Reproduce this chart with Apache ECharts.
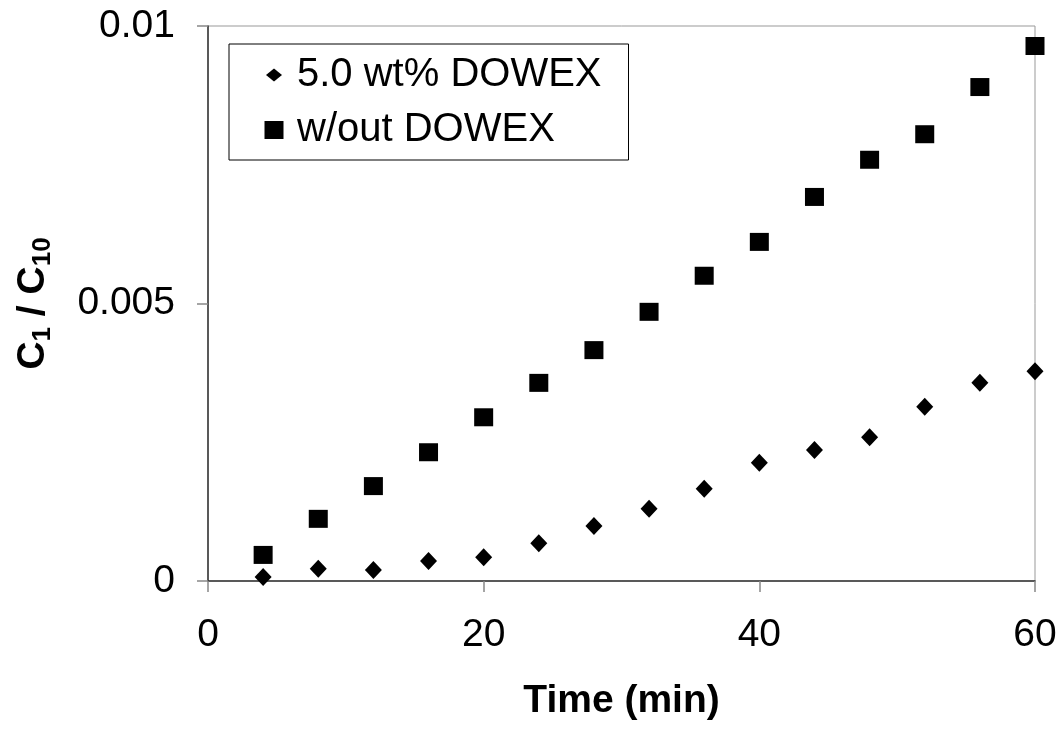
<!DOCTYPE html>
<html>
<head>
<meta charset="utf-8">
<script src="https://cdn.jsdelivr.net/npm/echarts@6/dist/echarts.min.js"></script>
<style>
html,body{margin:0;padding:0;background:#fff;}
#chart{width:1063px;height:732px;}
</style>
</head>
<body>
<div id="chart"></div>
<script>
// Data
const time = [4, 8, 12, 16, 20, 24, 28, 32, 36, 40, 44, 48, 52, 56, 60];
const withDowex = [0.00007, 0.00022, 0.00020, 0.00036, 0.00043, 0.00068, 0.00099, 0.00130, 0.00166, 0.00213, 0.00236, 0.00259, 0.00314, 0.00357, 0.00378];
const withoutDowex = [0.00047, 0.00112, 0.00171, 0.00232, 0.00295, 0.00357, 0.00416, 0.00485, 0.00550, 0.00611, 0.00692, 0.00759, 0.00805, 0.00890, 0.00964];
const seriesNames = ['5.0 wt% DOWEX', 'w/out DOWEX'];
const xTicks = {min: 0, max: 60, interval: 20};
const yTicks = {min: 0, max: 0.01, interval: 0.005};

const FONT = '"Liberation Sans", Arial, Helvetica, sans-serif';
const pairs = (xs, ys) => xs.map((x, i) => [x, ys[i]]);

const chart = echarts.init(document.getElementById('chart'), null, {renderer: 'canvas'});
chart.setOption({
  animation: false,
  backgroundColor: '#fff',
  textStyle: {fontFamily: FONT},
  grid: {
    left: 208, top: 26, right: 28, bottom: 151,
    show: true, borderColor: '#999', borderWidth: 1, backgroundColor: 'transparent'
  },
  legend: {
    orient: 'vertical',
    left: 229, top: 44,
    padding: [11, 27, 10, 35],
    itemGap: 15,
    itemWidth: 28, itemHeight: 20,
    borderColor: '#000', borderWidth: 1,
    backgroundColor: '#fff',
    selectedMode: false,
    textStyle: {fontFamily: FONT, fontSize: 40, lineHeight: 40, color: '#000'},
    data: [
      {name: seriesNames[0], icon: 'path://M0,0 M28,20 M10,3.5 L18,10 L10,16.5 L2,10 Z'},
      {name: seriesNames[1], icon: 'path://M0,0 M28,20 M0.5,1 L19.5,1 L19.5,19 L0.5,19 Z'}
    ]
  },
  xAxis: {
    type: 'value',
    min: xTicks.min, max: xTicks.max, interval: xTicks.interval,
    name: 'Time (min)',
    nameLocation: 'middle',
    nameGap: 101,
    nameTextStyle: {fontFamily: FONT, fontSize: 39, fontWeight: 'bold', color: '#000'},
    axisLine: {show: true, onZero: false, lineStyle: {color: '#333', width: 1.5}},
    axisTick: {show: true, inside: false, length: 11, lineStyle: {color: '#888', width: 1.5}},
    axisLabel: {margin: 35, fontFamily: FONT, fontSize: 39, color: '#000'},
    splitLine: {show: false}
  },
  yAxis: {
    type: 'value',
    min: yTicks.min, max: yTicks.max, interval: yTicks.interval,
    name: '{b|C}{s|1}{b| / C}{s|10}',
    nameLocation: 'middle',
    nameRotate: 90,
    nameGap: 152,
    nameTextStyle: {
      fontFamily: FONT, color: '#000',
      rich: {
        b: {fontFamily: FONT, fontSize: 39, fontWeight: 'bold', lineHeight: 46, color: '#000'},
        s: {fontFamily: FONT, fontSize: 26, fontWeight: 'bold', lineHeight: 25, verticalAlign: 'bottom', color: '#000'}
      }
    },
    axisLine: {show: true, onZero: false, lineStyle: {color: '#333', width: 1.5}},
    axisTick: {show: true, inside: false, length: 11, lineStyle: {color: '#888', width: 1.5}},
    axisLabel: {margin: 33, fontFamily: FONT, fontSize: 39, color: '#000'},
    splitLine: {show: false}
  },
  series: [
    {
      name: seriesNames[0],
      type: 'scatter',
      symbol: 'diamond',
      symbolSize: [17, 18],
      itemStyle: {color: '#000', opacity: 1},
      data: pairs(time, withDowex)
    },
    {
      name: seriesNames[1],
      type: 'scatter',
      symbol: 'rect',
      symbolSize: [19, 18],
      itemStyle: {color: '#000', opacity: 1},
      data: pairs(time, withoutDowex)
    }
  ]
});
</script>
</body>
</html>
